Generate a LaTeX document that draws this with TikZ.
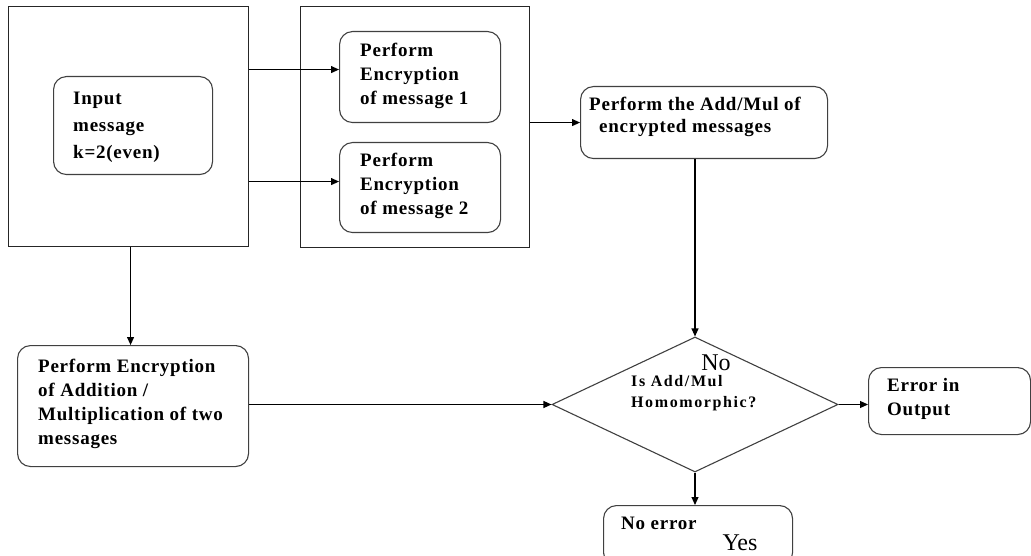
\documentclass[tikz,border=0pt]{standalone}
\usepackage{fontspec}
\setmainfont{Liberation Serif}
\newfontfamily\boxfont[LetterSpace=4]{Liberation Serif}
\newfontfamily\dfont[LetterSpace=10]{Liberation Serif}
\usetikzlibrary{shapes.geometric,arrows.meta}
\begin{document}
\begin{tikzpicture}[x=1pt,y=-1pt,
  frame/.style={draw=black!85, line width=1.1pt, anchor=north west, inner sep=0pt},
  rbox/.style={draw=black!75, line width=1.1pt, rounded corners=13pt, anchor=north west, inner sep=0pt},
  txt/.style={anchor=west, inner sep=0pt, align=left, font=\boxfont\bfseries\fontsize{19}{24}\selectfont},
  dtxt/.style={anchor=west, inner sep=0pt, align=left, font=\dfont\bfseries\fontsize{16}{21}\selectfont},
  lbl/.style={inner sep=0pt, font=\fontsize{24}{24}\selectfont},
  arr/.style={line width=1.1pt, -{Triangle[length=8pt,width=7pt]}}]
\useasboundingbox (0,0) rectangle (1031,556);
% containers
\node[frame, minimum width=240pt, minimum height=240pt] (L) at (8,6) {};
\node[frame, minimum width=229pt, minimum height=241pt] (R) at (300,6) {};
% boxes
\node[rbox, minimum width=159pt, minimum height=98pt] (inp) at (53,76) {};
\node[rbox, minimum width=161pt, minimum height=91pt] (e1) at (339,31) {};
\node[rbox, minimum width=161pt, minimum height=90pt] (e2) at (339,142) {};
\node[rbox, minimum width=247pt, minimum height=72pt] (am) at (580,86) {};
\node[rbox, minimum width=231pt, minimum height=121pt] (bl) at (17,345) {};
\node[rbox, minimum width=162pt, minimum height=67pt] (err) at (868,367) {};
\node[rbox, minimum width=189pt, minimum height=60pt] (ne) at (603,505) {};
\node[diamond, draw=black!75, line width=1.1pt, minimum width=286pt, minimum height=135pt, inner sep=0pt] (d) at (695,404.5) {};
% texts
\node[txt] (tinp) at (73,127) {Input\\[3pt] message\\[3pt] k=2(even)};
\node[txt] (te1) at (360,76) {Perform\\ Encryption\\ of message 1};
\node[txt] (te2) at (360,186) {Perform\\ Encryption\\ of message 2};
\node[txt] (tam) at (589,117) {Perform the Add/Mul of\\[-2pt] \hspace*{10pt}encrypted messages};
\node[txt] (tbl) at (38,404) {Perform Encryption\\ of Addition /\\ Multiplication of two\\ messages};
\node[txt] (terr) at (887,399) {Error in\\ Output};
\node[txt] (tne) at (621,523) {No error};
\node[dtxt] (td) at (631,393.5) {Is Add/Mul\\ Homomorphic?};
\node[lbl] (no) at (716,363) {No};
\node[lbl] (yes) at (740,543) {Yes};
% anchor points for off-centre arrows
\coordinate (e1in) at ([yshift=7.5pt]e1.west);
\coordinate (e2in) at ([yshift=6pt]e2.west);
\coordinate (ldown) at ([xshift=2pt]L.south);
% connectors
\draw[arr] (L.east |- e1in) -- (e1in);
\draw[arr] (L.east |- e2in) -- (e2in);
\draw[arr] (R.east |- am.west) -- (am.west);
\draw[arr] (d.north |- am.south) -- (d.north);
\draw[arr] (ldown) -- (ldown |- bl.north);
\draw[arr] (d.west -| bl.east) -- (d.west);
\draw[arr] (d.east) -- (d.east -| err.west);
\draw[arr] (d.south) -- (d.south |- ne.north);
\end{tikzpicture}
\end{document}
